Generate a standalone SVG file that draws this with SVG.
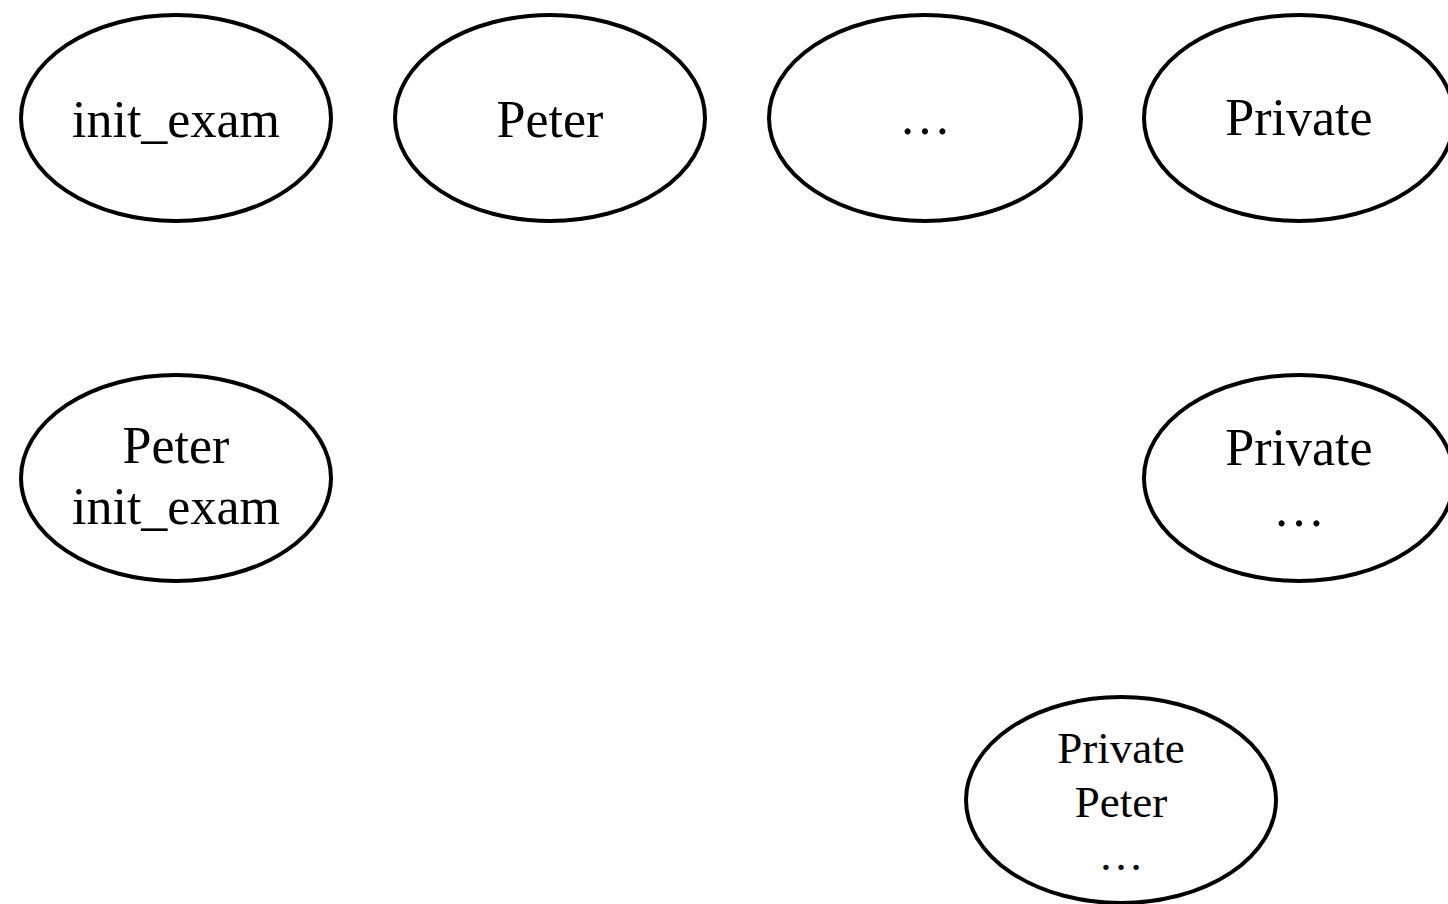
<svg xmlns="http://www.w3.org/2000/svg" width="1448" height="904" viewBox="0 0 1448 904">
  <style>
    .node ellipse { fill: #ffffff; stroke: #000000; stroke-width: 4; }
    .node text { font-family: "Liberation Serif", "Times New Roman", serif; font-size: 52px; fill: #000000; text-anchor: middle; }
    .node text.small { font-size: 45px; }
  </style>
  <rect width="1448" height="904" fill="#ffffff"/>
  <g id="connectors"></g>
  <g id="n-init-exam" class="node">
    <ellipse cx="176" cy="118" rx="155" ry="103"/>
    <text x="176" y="137">init_exam</text>
  </g>
  <g id="n-peter" class="node">
    <ellipse cx="550" cy="118" rx="155" ry="103"/>
    <text x="550" y="137">Peter</text>
  </g>
  <g id="n-ellipsis" class="node">
    <ellipse cx="925" cy="118" rx="156" ry="103"/>
    <text x="925" y="134">…</text>
  </g>
  <g id="n-private" class="node">
    <ellipse cx="1299" cy="118" rx="155" ry="103"/>
    <text x="1299" y="135">Private</text>
  </g>
  <g id="n-peter-init-exam" class="node">
    <ellipse cx="176" cy="478" rx="155" ry="103"/>
    <text x="176" y="463">Peter</text>
    <text x="176" y="524">init_exam</text>
  </g>
  <g id="n-private-ellipsis" class="node">
    <ellipse cx="1299" cy="478" rx="155" ry="103"/>
    <text x="1299" y="465">Private</text>
    <text x="1299" y="526">…</text>
  </g>
  <g id="n-private-peter-ellipsis" class="node">
    <ellipse cx="1121" cy="800" rx="155" ry="103"/>
    <text class="small" x="1121" y="763">Private</text>
    <text class="small" x="1121" y="817">Peter</text>
    <text class="small" x="1121" y="870">…</text>
  </g>
</svg>
